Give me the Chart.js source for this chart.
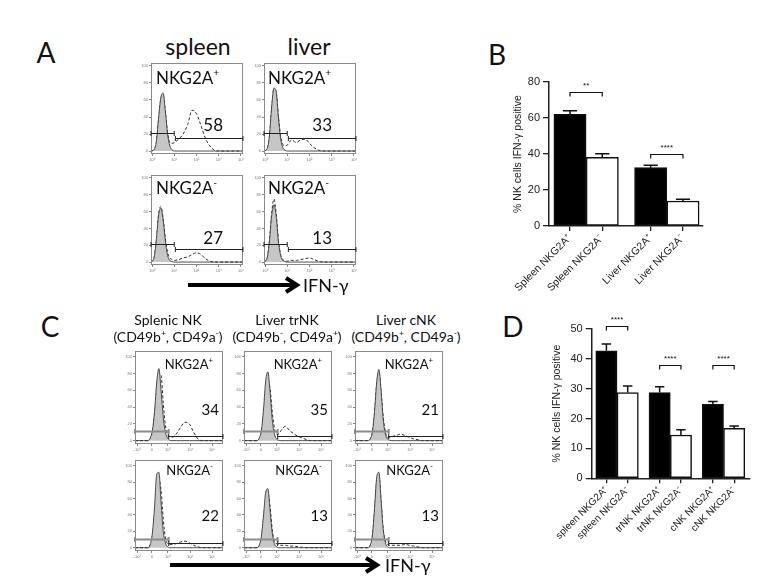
<!DOCTYPE html>
<html>
<head>
<meta charset="utf-8">
<script src="https://cdn.jsdelivr.net/npm/chart.js@4.4.0/dist/chart.umd.min.js"></script>
<style>
  html, body { margin: 0; padding: 0; background: #fff; }
  body { width: 781px; height: 586px; position: relative; overflow: hidden; font-family: Lato, 'Open Sans', sans-serif; color: #111; }
  canvas { position: absolute; }
  .t { position: absolute; white-space: nowrap; line-height: 1; }
  .t sup { font-size: 0.6em; vertical-align: baseline; position: relative; top: -0.75em; line-height: 0; }
  svg { position: absolute; left: 0; top: 0; }
</style>
</head>
<body>
<svg width="781" height="586">
  <g stroke="#000" stroke-width="4" fill="none" stroke-linejoin="miter">
    <line x1="188" y1="285" x2="296" y2="285"/>
    <polyline points="286,278 297,285 286,292"/>
    <line x1="170" y1="565" x2="376" y2="565"/>
    <polyline points="366,558 377,565 366,572"/>
  </g>
</svg>
<script>
// ---- Panel A histograms (x = log10 IFN-γ) ----
const xA = [-0.04, 0.1, 0.2, 0.3, 0.4, 0.5, 0.6, 0.7, 0.8, 0.9, 1.0, 1.2, 1.4, 1.6, 1.8, 2.0, 2.2, 2.4, 2.6, 2.8, 3.0, 3.5, 4.08];
const xTicksA = [0, 1, 2, 3, 4];
const xTickTextA = ['10⁰', '10¹', '10²', '10³', '10⁴'];
const yTicksHist = [0, 20, 40, 60, 80, 100];

const spleenPosGrey = [0, 2, 12, 40, 63, 68, 47, 20, 6, 1.5, 0, 0, 0, 0, 0, 0, 0, 0, 0, 0, 0, 0, 0];
const spleenPosDash = [0, 2, 11, 38, 62, 66, 46, 22, 10, 9, 10, 14, 20, 31, 48, 44, 30, 15, 6, 1, 0, 0, 0];
const liverPosGrey = [0, 3, 18, 52, 74, 70, 40, 15, 4, 1, 0, 0, 0, 0, 0, 0, 0, 0, 0, 0, 0, 0, 0];
const liverPosDash = [0, 3, 17, 50, 73, 70, 42, 18, 8, 6, 7, 13, 10, 13, 14, 9, 4, 1, 0, 0, 0, 0, 0];
const spleenNegGrey = [0, 6, 28, 56, 64, 50, 25, 8, 2, 0.5, 0, 0, 0, 0, 0, 0, 0, 0, 0, 0, 0, 0, 0];
const spleenNegDash = [0, 6, 27, 58, 66, 52, 28, 12, 5, 3, 2, 3, 5, 6, 9, 11, 9, 4, 1, 0, 0, 0, 0];
const liverNegGrey = [0, 5, 25, 55, 68, 55, 25, 8, 2, 0.5, 0, 0, 0, 0, 0, 0, 0, 0, 0, 0, 0, 0, 0];
const liverNegDash = [0, 5, 26, 58, 75, 58, 27, 9, 3, 1, 1, 2, 2, 3, 4, 5, 3, 1, 0, 0, 0, 0, 0];
const pctA = ['58', '33', '27', '13'];
const gateNegA = [-0.045, 1.0, 21];
const gatePosA = [1.05, 4.09, 15];

// ---- Panel C histograms (biexponential display units) ----
const xC = [-0.1, 0.3, 0.5, 0.6, 0.7, 0.8, 0.9, 1.0, 1.1, 1.2, 1.3, 1.4, 1.5, 1.6, 1.8, 2.0, 2.2, 2.4, 2.6, 2.8, 3.0, 3.4, 3.95];
const xTicksC = [0, 0.68, 1.41, 2.45, 3.45];
const xTickTextC = ['-10³', '0', '10³', '10⁴', '10⁵'];

const splenicPosGrey = [0, 0, 0, 3, 12, 35, 70, 86, 60, 28, 10, 3, 0.5, 0, 0, 0, 0, 0, 0, 0, 0, 0, 0];
const splenicPosDash = [0, 0, 0, 2, 10, 30, 62, 80, 78, 45, 18, 7, 5, 4, 8, 16, 22, 20, 10, 2, 0, 0, 0];
const trnkPosGrey = [0, 0, 0, 3, 12, 38, 72, 82, 58, 25, 8, 2, 0.5, 0, 0, 0, 0, 0, 0, 0, 0, 0, 0];
const trnkPosDash = [0, 0, 0, 2, 10, 30, 60, 72, 62, 35, 15, 8, 8, 12, 17, 12, 8, 5, 3, 1, 0, 0, 0];
const cnkPosGrey = [0, 0, 0, 2, 10, 35, 70, 85, 60, 25, 8, 2, 0.5, 0, 0, 0, 0, 0, 0, 0, 0, 0, 0];
const cnkPosDash = [0, 0, 0, 2, 10, 33, 68, 82, 58, 28, 10, 4, 4, 5, 6, 8, 6, 4, 2, 1, 0, 0, 0];
const splenicNegGrey = [0, 0, 0, 4, 18, 50, 90, 92, 55, 20, 6, 1, 0, 0, 0, 0, 0, 0, 0, 0, 0, 0, 0];
const splenicNegDash = [0, 0, 0, 3, 14, 40, 72, 83, 70, 35, 12, 5, 4, 4, 5, 7, 8, 6, 3, 1, 0, 0, 0];
const trnkNegGrey = [0, 0, 0, 3, 14, 40, 68, 72, 45, 18, 5, 1, 0, 0, 0, 0, 0, 0, 0, 0, 0, 0, 0];
const trnkNegDash = [0, 0, 0, 2, 12, 35, 58, 66, 50, 22, 8, 5, 4, 3, 3, 2, 2, 1, 0.5, 0, 0, 0, 0];
const cnkNegGrey = [0, 0, 0, 3, 15, 48, 86, 92, 58, 22, 6, 1, 0, 0, 0, 0, 0, 0, 0, 0, 0, 0, 0];
const cnkNegDash = [0, 0, 0, 3, 14, 45, 82, 90, 56, 22, 8, 4, 3, 3, 3, 3, 4, 3, 2, 1, 0, 0, 0];
const pctCTop = ['34', '35', '21'];
const pctCBottom = ['22', '13', '13'];
const gateNegC = [-0.1, 1.45, 11];
const gatePosC = [1.45, 3.95, 6];

// ---- Panel B bars ----
const labelsB = ['Spleen NKG2A⁺', 'Spleen NKG2A⁻', 'Liver NKG2A⁺', 'Liver NKG2A⁻'];
const valuesB = [62, 38.2, 32.4, 13.9];
const errorsB = [2, 2, 1.3, 0.9];
const sigPairsB = [[0, 1], [2, 3]];
const sigHeightsB = [74.3, 39.8];
const sigStarsB = ['**', '****'];

// ---- Panel D bars ----
const labelsD = ['spleen NKG2A⁺', 'spleen NKG2A⁻', 'trNK NKG2A⁺', 'trNK NKG2A⁻', 'cNK NKG2A⁺', 'cNK NKG2A⁻'];
const valuesD = [42.7, 28.7, 28.7, 14.5, 24.8, 16.7];
const errorsD = [2.3, 2.2, 2.0, 1.8, 0.9, 0.8];
const sigPairsD = [[0, 1], [2, 3], [4, 5]];
const sigHeightsD = [51.1, 37.8, 37.8];
const sigStarsD = ['****', '****', '****'];

Chart.defaults.font.family = "'Liberation Sans', Arial, sans-serif";
Chart.defaults.color = '#222';

function addCanvas(left, top, w, h) {
    const c = document.createElement('canvas');
    c.width = w; c.height = h;
    c.style.left = left + 'px';
    c.style.top = top + 'px';
    c.style.width = w + 'px';
    c.style.height = h + 'px';
    document.body.appendChild(c);
    return c;
}

function label(html, x, y, size, align) {
    const d = document.createElement('div');
    d.className = 't';
    d.innerHTML = html;
    d.style.fontSize = size + 'px';
    d.style.top = y + 'px';
    if (align === 'left') {
        d.style.left = x + 'px';
        d.style.transform = 'translateY(-50%)';
    } else if (align === 'right') {
        d.style.right = (781 - x) + 'px';
        d.style.transform = 'translateY(-50%)';
    } else {
        d.style.left = x + 'px';
        d.style.transform = 'translate(-50%, -50%)';
    }
    document.body.appendChild(d);
}

const framePlugin = {
    id: 'frame',
    afterDatasetsDraw(chart) {
        const { ctx, chartArea: a } = chart;
        ctx.save();
        ctx.strokeStyle = '#8a8a8a';
        ctx.lineWidth = 1;
        ctx.strokeRect(a.left + 0.5, a.top + 0.5, a.right - a.left - 1, a.bottom - a.top - 1);
        ctx.restore();
    }
};

function gatePlugin(gates) {
    return {
        id: 'gates',
        afterDatasetsDraw(chart) {
            const { ctx, scales: { x, y } } = chart;
            gates.forEach(g => {
                const x0 = x.getPixelForValue(g.range[0]);
                const x1 = x.getPixelForValue(g.range[1]);
                const yy = Math.round(y.getPixelForValue(g.range[2])) + 0.5;
                ctx.save();
                ctx.strokeStyle = g.color;
                ctx.lineWidth = g.width;
                ctx.beginPath();
                ctx.moveTo(x0, yy); ctx.lineTo(x1, yy);
                ctx.moveTo(x0, yy - 2.5); ctx.lineTo(x0, yy + 2.5);
                ctx.moveTo(x1, yy - 2.5); ctx.lineTo(x1, yy + 2.5);
                ctx.stroke();
                ctx.restore();
            });
        }
    };
}

function hist(left, top, w, h, xs, grey, dash, xTickVals, xTickText, xLim, yLim, gates) {
    const padT = 2, padR = 3, yW = 12, xH = 10;
    const cv = addCanvas(left - yW, top - padT, w + yW + padR, h + padT + xH);
    new Chart(cv, {
        type: 'line',
        data: {
            datasets: [{
                data: xs.map((v, i) => ({ x: v, y: grey[i] })),
                fill: 'origin',
                backgroundColor: '#c6c6c6',
                borderColor: '#3a3a3a',
                borderWidth: 0.9,
                pointRadius: 0,
                cubicInterpolationMode: 'monotone'
            }, {
                data: xs.map((v, i) => ({ x: v, y: dash[i] })),
                fill: false,
                borderColor: '#1a1a1a',
                borderWidth: 0.9,
                borderDash: [3, 2],
                pointRadius: 0,
                cubicInterpolationMode: 'monotone'
            }]
        },
        options: {
            responsive: false,
            animation: false,
            events: [],
            layout: { padding: { top: padT, right: padR, left: 0, bottom: 0 } },
            plugins: { legend: { display: false }, tooltip: { enabled: false } },
            scales: {
                x: {
                    type: 'linear', min: xLim[0], max: xLim[1],
                    afterBuildTicks: s => { s.ticks = xTickVals.map(v => ({ value: v })); },
                    afterFit: s => { s.height = xH; s.paddingLeft = 0; s.paddingRight = 0; },
                    ticks: { font: { size: 4 }, color: '#777', padding: 1, maxRotation: 0, autoSkip: false,
                             callback: (v, i) => xTickText[i] },
                    grid: { drawOnChartArea: false, tickLength: 2, color: '#888' },
                    border: { display: false }
                },
                y: {
                    min: yLim[0], max: yLim[1],
                    afterBuildTicks: s => { s.ticks = yTicksHist.map(v => ({ value: v })); },
                    afterFit: s => { s.width = yW; s.paddingTop = 0; s.paddingBottom = 0; },
                    ticks: { font: { size: 4 }, color: '#777', padding: 1, autoSkip: false },
                    grid: { drawOnChartArea: false, tickLength: 2, color: '#888' },
                    border: { display: false }
                }
            }
        },
        plugins: [framePlugin, gatePlugin(gates)]
    });
}

function barChart(left, top, w, h, o) {
    const pos = o.labels.map((_, i) => i + 0.5 * Math.floor(i / 2));
    const cv = addCanvas(left, top, w, h);
    const extras = {
        id: 'extras',
        afterDatasetsDraw(chart) {
            const { ctx, scales: { y } } = chart;
            const els = chart.getDatasetMeta(0).data;
            ctx.save();
            ctx.strokeStyle = '#111';
            ctx.lineWidth = 1.5;
            // error bars (upper only)
            els.forEach((el, i) => {
                const yt = y.getPixelForValue(o.values[i] + o.errors[i]);
                const cap = el.width * 0.22;
                ctx.beginPath();
                ctx.moveTo(el.x, el.y); ctx.lineTo(el.x, yt);
                ctx.moveTo(el.x - cap, yt); ctx.lineTo(el.x + cap, yt);
                ctx.stroke();
            });
            // significance brackets
            ctx.lineWidth = 1.2;
            ctx.fillStyle = '#111';
            ctx.font = "8px 'Liberation Sans', Arial";
            ctx.textAlign = 'center';
            ctx.textBaseline = 'bottom';
            o.pairs.forEach((p, k) => {
                const x1 = els[p[0]].x, x2 = els[p[1]].x;
                const yy = Math.round(y.getPixelForValue(o.heights[k])) + 0.5;
                ctx.beginPath();
                ctx.moveTo(x1, yy + 4); ctx.lineTo(x1, yy); ctx.lineTo(x2, yy); ctx.lineTo(x2, yy + 4);
                ctx.stroke();
                ctx.fillText(o.stars[k], (x1 + x2) / 2, yy - 3);
            });
            ctx.restore();
        }
    };
    new Chart(cv, {
        type: 'bar',
        data: {
            datasets: [{
                data: o.values.map((v, i) => ({ x: pos[i], y: v })),
                backgroundColor: o.values.map((_, i) => i % 2 ? '#fff' : '#000'),
                borderColor: '#111',
                borderWidth: 1.5,
                borderSkipped: false,
                barPercentage: 1,
                categoryPercentage: 1
            }]
        },
        options: {
            responsive: false,
            animation: false,
            events: [],
            layout: { padding: { top: o.padTop, right: o.padRight, left: 0, bottom: 0 } },
            plugins: { legend: { display: false }, tooltip: { enabled: false } },
            scales: {
                x: {
                    type: 'linear', min: o.xMin, max: o.xMax, offset: false,
                    afterBuildTicks: s => { s.ticks = pos.map(v => ({ value: v })); },
                    afterFit: s => { s.height = o.xH; s.paddingLeft = 0; s.paddingRight = 0; },
                    ticks: { autoSkip: false, minRotation: 45, maxRotation: 45, font: { size: o.labelSize }, color: '#222', padding: 1,
                             callback: (v, i) => o.labels[i] },
                    grid: { offset: false, drawOnChartArea: false, tickLength: 5, color: '#222', lineWidth: 1.3 },
                    border: { color: '#222', width: 1.5 }
                },
                y: {
                    min: 0, max: o.yMax,
                    ticks: { stepSize: o.yStep, font: { size: 11 }, color: '#222', padding: 3 },
                    afterFit: s => { s.width = o.yW; },
                    grid: { drawOnChartArea: false, tickLength: 6, color: '#222', lineWidth: 1.3 },
                    border: { color: '#222', width: 1.5 },
                    title: { display: true, text: '% NK cells IFN-γ positive', font: { size: 10.5 }, color: '#222',
                             padding: { top: o.titlePad, bottom: 0 } }
                }
            }
        },
        plugins: [extras]
    });
}

// ---- Panel A ----
const gA = [{ range: gateNegA, color: '#222', width: 1 }, { range: gatePosA, color: '#222', width: 1 }];
const xLimA = [-0.045, 4.09], yLimA = [-3.5, 103.5];
hist(151, 63, 92, 91, xA, spleenPosGrey, spleenPosDash, xTicksA, xTickTextA, xLimA, yLimA, gA);
hist(264, 63, 92, 91, xA, liverPosGrey, liverPosDash, xTicksA, xTickTextA, xLimA, yLimA, gA);
hist(151, 175, 92, 90, xA, spleenNegGrey, spleenNegDash, xTicksA, xTickTextA, xLimA, yLimA, gA);
hist(264, 175, 92, 90, xA, liverNegGrey, liverNegDash, xTicksA, xTickTextA, xLimA, yLimA, gA);

label('A', 46, 52, 28, 'center');
label('spleen', 198, 46, 23, 'center');
label('liver', 309, 46, 23, 'center');
label('NKG2A<sup>+</sup>', 156, 77, 17, 'left');
label('NKG2A<sup>+</sup>', 268, 77, 17, 'left');
label('NKG2A<sup>-</sup>', 156, 187, 17, 'left');
label('NKG2A<sup>-</sup>', 268, 187, 17, 'left');
label(pctA[0], 223, 124, 17, 'right');
label(pctA[1], 332, 124, 17, 'right');
label(pctA[2], 223, 237, 17, 'right');
label(pctA[3], 332, 237, 17, 'right');
label('IFN-γ', 303, 285, 18, 'left');

// ---- Panel C ----
const gC = [{ range: gateNegC, color: '#8c8c8c', width: 2 }, { range: gatePosC, color: '#222', width: 1 }];
const xLimC = [-0.1, 3.95], yLimC = [-4, 107];
const colsC = [135, 244, 355];
hist(colsC[0], 351, 88, 93, xC, splenicPosGrey, splenicPosDash, xTicksC, xTickTextC, xLimC, yLimC, gC);
hist(colsC[1], 351, 88, 93, xC, trnkPosGrey, trnkPosDash, xTicksC, xTickTextC, xLimC, yLimC, gC);
hist(colsC[2], 351, 88, 93, xC, cnkPosGrey, cnkPosDash, xTicksC, xTickTextC, xLimC, yLimC, gC);
hist(colsC[0], 460, 88, 91, xC, splenicNegGrey, splenicNegDash, xTicksC, xTickTextC, xLimC, yLimC, gC);
hist(colsC[1], 460, 88, 91, xC, trnkNegGrey, trnkNegDash, xTicksC, xTickTextC, xLimC, yLimC, gC);
hist(colsC[2], 460, 88, 91, xC, cnkNegGrey, cnkNegDash, xTicksC, xTickTextC, xLimC, yLimC, gC);

label('C', 50, 326, 28, 'center');
label('Splenic NK', 168, 320, 14, 'center');
label('(CD49b<sup>+</sup>, CD49a<sup>-</sup>)', 168, 337, 14, 'center');
label('Liver trNK', 287, 320, 14, 'center');
label('(CD49b<sup>-</sup>, CD49a<sup>+</sup>)', 287, 337, 14, 'center');
label('Liver cNK', 406, 320, 14, 'center');
label('(CD49b<sup>+</sup>, CD49a<sup>-</sup>)', 406, 337, 14, 'center');
colsC.forEach((c, k) => {
    label('NKG2A<sup>+</sup>', c + 78, 364, 13, 'right');
    label('NKG2A<sup>-</sup>', c + 78, 470, 13, 'right');
    label(pctCTop[k], c + 84, 409, 15, 'right');
    label(pctCBottom[k], c + 84, 515, 15, 'right');
});
label('IFN-γ', 385, 565, 18, 'left');

// ---- Panel B ----
label('B', 497, 54, 28, 'center');
barChart(495, 60, 230, 240, {
    labels: labelsB, values: valuesB, errors: errorsB,
    pairs: sigPairsB, heights: sigHeightsB, stars: sigStarsB,
    yMax: 80, yStep: 20, xMin: -0.65, xMax: 4.12,
    padTop: 22, padRight: 22, yW: 54, xH: 74, titlePad: 17, labelSize: 10.5
});

// ---- Panel D ----
label('D', 513, 326, 28, 'center');
barChart(530, 305, 230, 262, {
    labels: labelsD, values: valuesD, errors: errorsD,
    pairs: sigPairsD, heights: sigHeightsD, stars: sigStarsD,
    yMax: 50, yStep: 10, xMin: -0.69, xMax: 6.71,
    padTop: 24, padRight: 10.7, yW: 61.7, xH: 88.7, titlePad: 21, labelSize: 10
});
</script>
</body>
</html>
